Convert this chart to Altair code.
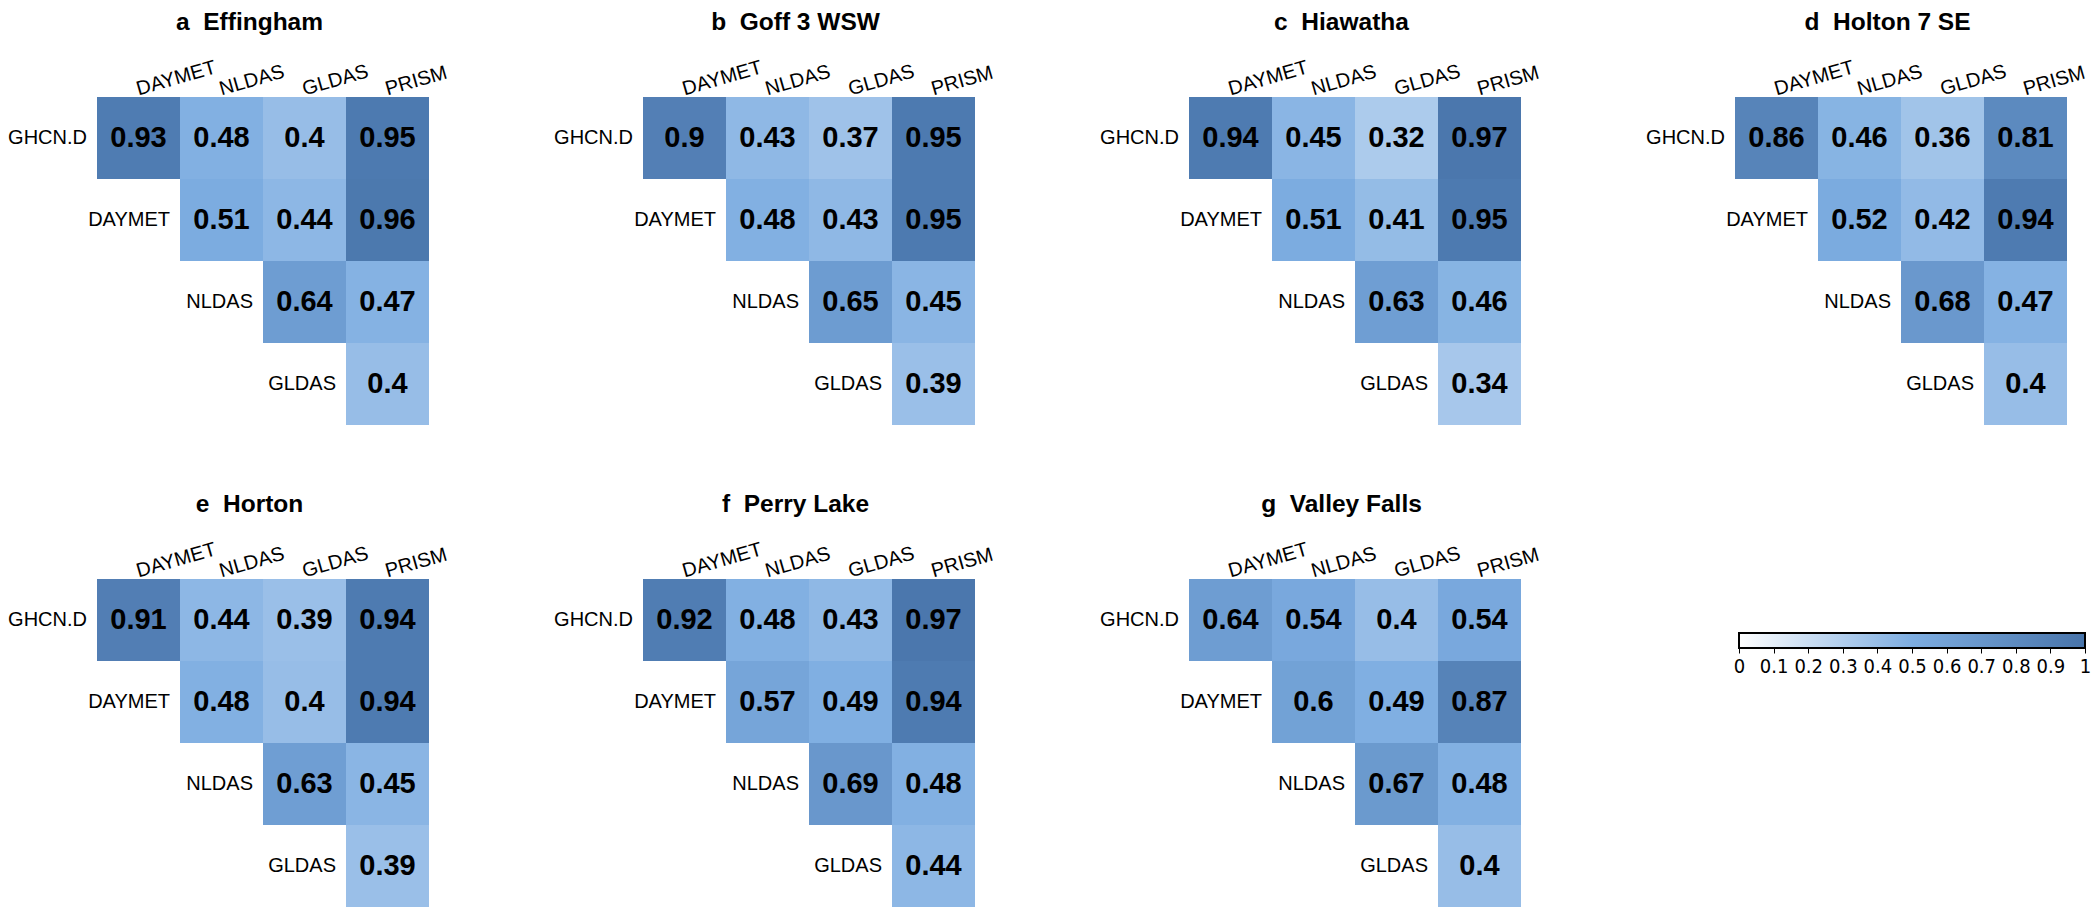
import altair as alt
import pandas as pd

# ---------------- data ----------------
row_labels = ["GHCN.D", "DAYMET", "NLDAS", "GLDAS"]
col_labels = ["DAYMET", "NLDAS", "GLDAS", "PRISM"]

panel_letters = ["a", "b", "c", "d", "e", "f", "g"]
station_names = ["Effingham", "Goff 3 WSW", "Hiawatha", "Holton 7 SE",
                 "Horton", "Perry Lake", "Valley Falls"]

# upper-triangle correlation values, one list per row (row i starts at column i)
effingham = [[0.93, 0.48, 0.40, 0.95], [0.51, 0.44, 0.96], [0.64, 0.47], [0.40]]
goff = [[0.90, 0.43, 0.37, 0.95], [0.48, 0.43, 0.95], [0.65, 0.45], [0.39]]
hiawatha = [[0.94, 0.45, 0.32, 0.97], [0.51, 0.41, 0.95], [0.63, 0.46], [0.34]]
holton = [[0.86, 0.46, 0.36, 0.81], [0.52, 0.42, 0.94], [0.68, 0.47], [0.40]]
horton = [[0.91, 0.44, 0.39, 0.94], [0.48, 0.40, 0.94], [0.63, 0.45], [0.39]]
perry_lake = [[0.92, 0.48, 0.43, 0.97], [0.57, 0.49, 0.94], [0.69, 0.48], [0.44]]
valley_falls = [[0.64, 0.54, 0.40, 0.54], [0.60, 0.49, 0.87], [0.67, 0.48], [0.40]]
station_values = [effingham, goff, hiawatha, holton, horton, perry_lake, valley_falls]

legend_ticks = [0, 0.1, 0.2, 0.3, 0.4, 0.5, 0.6, 0.7, 0.8, 0.9, 1]
legend_extent = [0, 1]
color_domain = [0, 0.5, 1]
color_range = ["#ffffff", "#7dade1", "#4874aa"]

FONT = "Liberation Sans"
NARROW = "'Liberation Sans Narrow', 'DejaVu Sans Condensed', sans-serif"
SPACER = "_"
x_domain = [SPACER] + col_labels

CELL_W = 83
CELL_H = 82
PANEL_W = CELL_W * len(x_domain)
PANEL_H = CELL_H * len(row_labels)


def panel(letter, name, values):
    cells = []
    for i, r in enumerate(row_labels):
        for k, v in enumerate(values[i]):
            cells.append({"row": r, "col": col_labels[i + k], "v": v})
    labels = [{"row": r, "prev": x_domain[i]} for i, r in enumerate(row_labels)]

    xs = alt.Scale(domain=x_domain, paddingInner=0, paddingOuter=0)
    ys = alt.Scale(domain=row_labels, paddingInner=0, paddingOuter=0)
    xaxis = alt.Axis(orient="top", title=None, labelAngle=344, labelAlign="left",
                     labelBaseline="alphabetic", labelPadding=2, ticks=False,
                     domain=False, grid=False, labelFontSize=20, labelFont=FONT,
                     labelColor="black", labelOverlap=False,
                     labelExpr="datum.value == '_' ? '' : datum.value")

    base = alt.Chart(pd.DataFrame(cells))
    rect = base.mark_rect().encode(
        x=alt.X("col:N", scale=xs, axis=xaxis),
        y=alt.Y("row:N", scale=ys, axis=None),
        color=alt.Color("v:Q", scale=alt.Scale(domain=color_domain, range=color_range,
                                               interpolate="rgb"), legend=None),
    )
    txt = base.mark_text(fontSize=29, fontWeight="bold", font=FONT, color="black",
                         baseline="middle").encode(
        x=alt.X("col:N", scale=xs, axis=xaxis),
        y=alt.Y("row:N", scale=ys, axis=None),
        text=alt.Text("v:Q", format=".2~f"),
    )
    lab = alt.Chart(pd.DataFrame(labels)).mark_text(
        align="right", baseline="middle", dx=-10, fontSize=20, font=FONT, color="black"
    ).encode(
        x=alt.X("prev:N", scale=xs, axis=xaxis, bandPosition=1),
        y=alt.Y("row:N", scale=ys, axis=None),
        text="row:N",
    )
    return alt.layer(rect, txt, lab).properties(
        width=PANEL_W, height=PANEL_H,
        title=alt.TitleParams(text=f"{letter}\u00a0 {name}", fontSize=24.5, fontWeight="bold",
                              font=FONT, color="black", anchor="middle", dx=28, offset=22),
    )


panels = [panel(l, n, v) for l, n, v in zip(panel_letters, station_names, station_values)]

BAR_START = CELL_W + 4
BAR_W = 346
LEG_W = BAR_START + BAR_W
leg_df = pd.DataFrame({"lo": [legend_extent[0]], "hi": [legend_extent[1]]})
legend = alt.Chart(leg_df).mark_rect(
    fill=alt.LinearGradient(
        gradient="linear",
        stops=[alt.GradientStop(offset=o, color=c) for o, c in zip(color_domain, color_range)],
        x1=0, x2=1, y1=0, y2=0),
    stroke="black", strokeWidth=2,
).encode(
    x=alt.X("lo:Q", scale=alt.Scale(domain=legend_extent, nice=False, zero=False,
                                     range=[BAR_START, LEG_W]),
            axis=alt.Axis(values=legend_ticks, format="~g", title=None, domain=False,
                          grid=False, tickSize=5, tickColor="black", tickWidth=1,
                          labelPadding=3, labelFontSize=20, labelFont=NARROW,
                          labelColor="black", labelOverlap=False, labelFlush=False)),
    x2="hi:Q",
    y=alt.value(54),
    y2=alt.value(69),
).properties(width=LEG_W, height=69)

chart = alt.concat(*panels, legend, columns=4,
                   spacing={"row": 154, "column": 131}, bounds="flush").properties(
    padding={"left": 0, "top": 1, "right": 0, "bottom": 0}
).configure_view(strokeWidth=0, stroke="transparent")

chart.save("out.html", embed_options={"renderer": "svg", "actions": False})
